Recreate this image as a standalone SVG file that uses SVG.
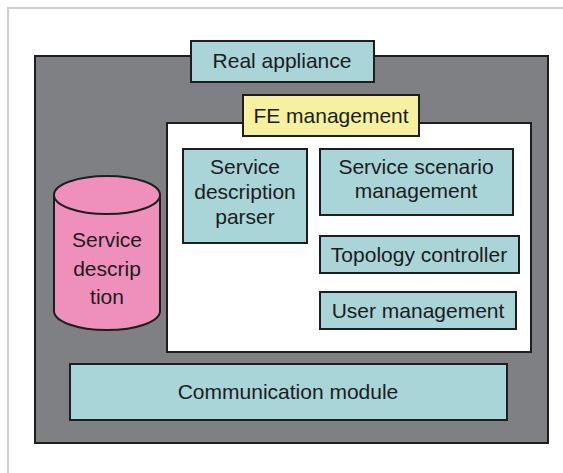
<svg xmlns="http://www.w3.org/2000/svg" width="563" height="473" viewBox="0 0 563 473">
  <style>
    .lbl { font-family: "Liberation Sans", Arial, sans-serif; font-size: 21px; fill: #1c1c1c; text-anchor: middle; }
    .box { stroke: #1e1e1e; stroke-width: 2; }
    .teal { fill: #a9d4d8; }
    .yellow { fill: #f6f19e; }
    .pink { fill: #ef8fbb; }
  </style>

  <rect width="563" height="473" fill="#ffffff"/>
  <!-- page frame -->
  <path d="M8 473 V8 H563" fill="none" stroke="#cfcfcf" stroke-width="2"/>

  <g id="real-appliance">
    <rect class="box" x="35" y="56" width="513" height="387" fill="#7f8083"/>
    <rect class="box teal" x="191" y="41" width="183" height="41"/>
    <text class="lbl" x="282" y="68">Real appliance</text>
  </g>

  <g id="fe-management">
    <rect class="box" x="167" y="123" width="364" height="229" fill="#ffffff"/>
    <rect class="box yellow" x="243" y="95" width="176" height="41"/>
    <text class="lbl" x="331" y="123">FE management</text>
  </g>

  <g id="service-description">
    <path class="box pink" d="M54 195 V311 A53 19 0 0 0 160 311 V195 Z"/>
    <ellipse class="box pink" cx="107" cy="195" rx="53" ry="19"/>
    <text class="lbl" x="107" y="247">Service</text>
    <text class="lbl" x="107" y="276">descrip</text>
    <text class="lbl" x="107" y="304">tion</text>
  </g>

  <g id="service-description-parser">
    <rect class="box teal" x="183" y="149" width="124" height="94"/>
    <text class="lbl" x="245" y="174">Service</text>
    <text class="lbl" x="245" y="199">description</text>
    <text class="lbl" x="245" y="224">parser</text>
  </g>

  <g id="service-scenario-management">
    <rect class="box teal" x="320" y="149" width="193" height="66"/>
    <text class="lbl" x="416" y="174">Service scenario</text>
    <text class="lbl" x="416" y="198">management</text>
  </g>

  <g id="topology-controller">
    <rect class="box teal" x="320" y="236" width="199" height="37"/>
    <text class="lbl" x="419" y="262">Topology controller</text>
  </g>

  <g id="user-management">
    <rect class="box teal" x="320" y="292" width="196" height="37"/>
    <text class="lbl" x="418" y="318">User management</text>
  </g>

  <g id="communication-module">
    <rect class="box teal" x="70" y="364" width="437" height="56"/>
    <text class="lbl" x="288" y="399">Communication module</text>
  </g>

  <g id="connectors"/>
</svg>
